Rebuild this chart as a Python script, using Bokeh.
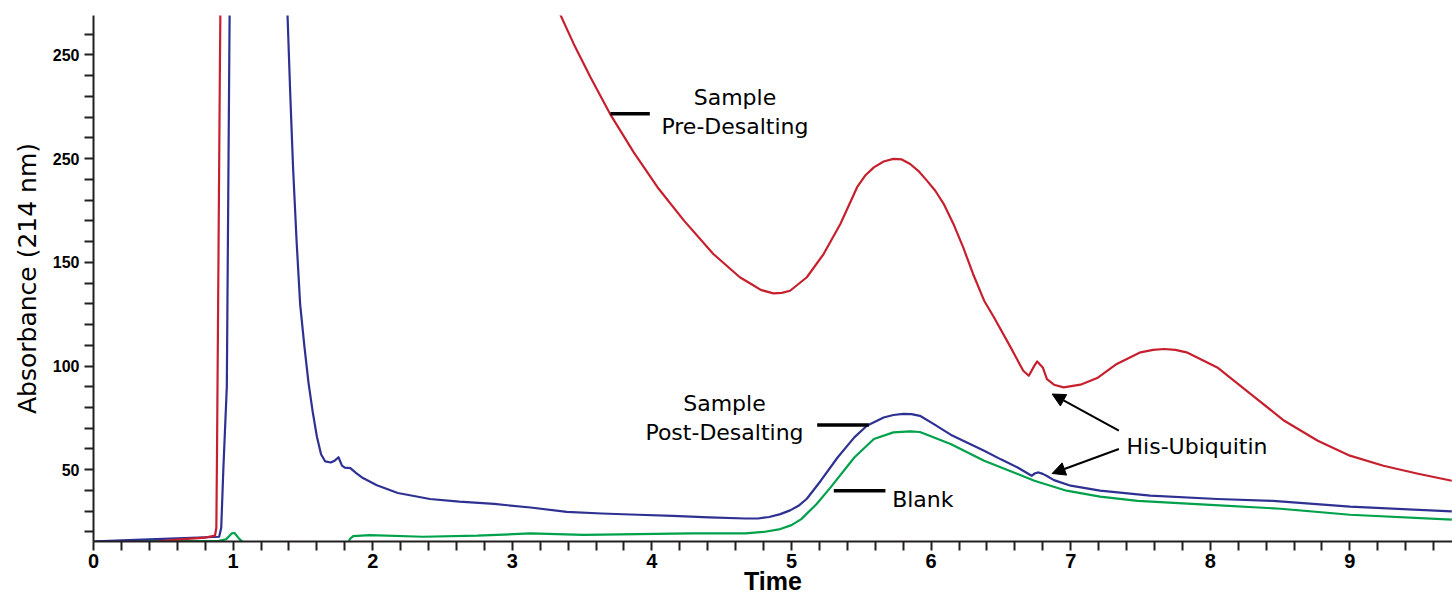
from bokeh.plotting import figure
from bokeh.models import Range1d, FixedTicker, Label, Arrow, NormalHead
from bokeh.embed import file_html
from bokeh.resources import INLINE

# ---------------- data ----------------
pre_time = [0.45, 0.6, 0.8, 0.87, 0.88, 0.885, 0.895, 0.905, 0.91, 0.95, 3.0, 3.3,
            3.34, 3.44, 3.56, 3.70, 3.87, 4.04, 4.23, 4.44, 4.63, 4.72, 4.78, 4.87, 4.93, 4.99,
            5.11, 5.23, 5.35, 5.47, 5.53, 5.59, 5.66, 5.73, 5.79, 5.85, 5.91, 5.97, 6.03, 6.09,
            6.16, 6.23, 6.30, 6.38, 6.45,
            6.57, 6.66, 6.70, 6.74, 6.76, 6.80, 6.83, 6.88, 6.95, 7.07, 7.19, 7.33,
            7.50, 7.59, 7.67, 7.75, 7.83, 8.05, 8.29, 8.53, 8.77, 9.00, 9.24, 9.48, 9.73]
pre_abs = [15.4, 16.3, 17.3, 18.2, 22, 60, 150, 240, 280, 600, 600, 285,
           270, 255.3, 239.2, 221.6, 203, 186.2, 170.1, 154, 142.8, 139.2, 136.7, 135, 135.3, 136.3,
           142.8, 154, 168.5, 186.2, 192, 195.8, 198.6, 199.9, 199.6, 197.4, 194, 189.4, 184.5, 178.2,
           168.5, 157.2, 144.5, 131.5, 123.5,
           109, 97.7, 95.3, 100.2, 102.2, 99.3, 93.7, 91, 89.7, 91, 94.2, 101,
           106.6, 107.8, 108.2, 107.8, 106.6, 99.3, 86.5, 73.6, 64, 56.8, 51.9, 48.2, 44.7]

post_time = [0.02, 0.3, 0.6, 0.9, 0.915, 0.93, 0.955, 0.965, 0.975, 0.985, 1.38,
             1.39, 1.41, 1.43, 1.455, 1.48, 1.51, 1.54, 1.57, 1.60, 1.63, 1.66, 1.70,
             1.73, 1.755, 1.78, 1.80, 1.84, 1.88, 1.93, 2.03, 2.18, 2.41, 2.62, 2.87,
             3.13, 3.39, 3.64, 3.90, 4.15, 4.41, 4.67, 4.76, 4.84, 4.92, 4.99, 5.05, 5.11, 5.21,
             5.33, 5.45, 5.54, 5.66, 5.73, 5.80, 5.86, 5.92, 6.02, 6.14, 6.26, 6.38, 6.50, 6.62,
             6.72, 6.745, 6.77, 6.80, 6.83, 6.88, 7.0, 7.21, 7.57, 8.05, 8.45, 9.0, 9.73]
post_abs = [15.5, 16.2, 16.9, 17.7, 22, 50, 90, 180, 269, 320, 320,
            269, 230, 195, 160, 130, 110, 92, 78, 66, 57.5, 54, 53.5,
            54.5, 56, 52, 51, 50.8, 48.5, 46, 42.5, 38.8, 35.9, 34.6, 33.5,
            31.8, 29.7, 28.9, 28.3, 27.8, 27, 26.5, 26.5, 27.2, 28.6, 30.4, 32.6, 36, 44.7,
            55.9, 65.6, 71.2, 75.2, 76.4, 76.9, 76.8, 76, 72, 66.9, 63, 59.2, 55, 51.1,
            47.1, 48.3, 48.7, 48, 47, 45, 42.3, 39.9, 37.5, 35.9, 35, 32.2, 29.9]

blank_time = [0.0, 0.9, 0.95, 0.99, 1.01, 1.04, 1.07, 1.1, 1.82, 1.835, 1.86, 1.98,
              2.36, 2.75, 3.13, 3.51, 3.90, 4.28, 4.67, 4.80, 4.92, 5.0, 5.07, 5.18, 5.28, 5.45,
              5.59, 5.73, 5.85, 5.92, 6.14, 6.38, 6.62, 6.74, 6.97, 7.21, 7.48, 8.0,
              8.5, 9.0, 9.73]
blank_abs = [15.5, 15.7, 16.5, 19.3, 19.5, 17, 15, 12, 12, 16.5, 18, 18.5,
             17.7, 18.2, 19.3, 18.6, 19, 19.3, 19.3, 20.0, 21.4, 23.3, 26.2, 33.5, 41.5, 55.9,
             64.8, 68, 68.5, 68.2, 62.4, 54.3, 47.9, 44.7, 39.9, 37, 35, 33.1,
             31.2, 28.3, 25.9]

x_major = [0, 1, 2, 3, 4, 5, 6, 7, 8, 9]
y_major = [50, 100, 150, 200, 250]
y_labels = {200: "250"}   # as printed in the original figure

# ---------------- figure ----------------
W, H = 1452, 597
p = figure(width=W, height=H, output_backend="svg", toolbar_location=None,
           x_range=Range1d(0, 9.735), y_range=Range1d(15.4, 269.0),
           min_border_left=93, min_border_right=0, min_border_top=15,
           min_border_bottom=56)
p.outline_line_color = None
p.xgrid.visible = False
p.ygrid.visible = False
p.background_fill_color = "white"
p.border_fill_color = "white"

RED = "#c6202e"
BLUE = "#2e3192"
GREEN = "#00a14b"
AX = "#231f20"

p.line(blank_time, blank_abs, line_color=GREEN, line_width=2.2, line_join="round")
p.line(post_time, post_abs, line_color=BLUE, line_width=2.2, line_join="round")
p.line(pre_time, pre_abs, line_color=RED, line_width=2.2, line_join="round")

minor_x = [round(i * 0.2, 1) for i in range(0, 49) if i % 5 != 0]
minor_y = [v for v in range(20, 270, 10) if v % 50 != 0]

for ax in (p.xaxis[0], p.yaxis[0]):
    ax.axis_line_color = AX
    ax.axis_line_width = 2
    ax.major_tick_line_color = AX
    ax.minor_tick_line_color = AX
    ax.major_tick_line_width = 2
    ax.minor_tick_line_width = 2
    ax.major_tick_in = 0
    ax.minor_tick_in = 0
    ax.major_tick_out = 9
    ax.minor_tick_out = 9
    ax.major_label_text_font = "Liberation Sans"
    ax.major_label_text_font_style = "bold"
    ax.major_label_text_color = "black"

p.xaxis[0].ticker = FixedTicker(ticks=x_major, minor_ticks=minor_x)
p.yaxis[0].ticker = FixedTicker(ticks=y_major, minor_ticks=minor_y)
p.yaxis[0].major_label_overrides = y_labels
p.xaxis[0].major_label_text_font_size = "20px"
p.yaxis[0].major_label_text_font_size = "16px"
p.xaxis[0].major_label_standoff = 3
p.yaxis[0].major_label_standoff = 5

# axis titles
xa = p.xaxis[0]
xa.axis_label = "Time"
xa.axis_label_text_font = "Liberation Sans"
xa.axis_label_text_font_style = "bold"
xa.axis_label_text_font_size = "25px"
xa.axis_label_text_color = "black"
xa.axis_label_standoff = -4

ya = p.yaxis[0]
ya.axis_label = "Absorbance (214 nm)"
ya.axis_label_text_font = "DejaVu Sans"
ya.axis_label_text_font_style = "normal"
ya.axis_label_text_font_size = "25px"
ya.axis_label_text_color = "black"
ya.axis_label_standoff = 8

# annotations
ANN_FONT = "DejaVu Sans"
ANN_SIZE = "22px"

def note(x, y, txt, align="center"):
    p.add_layout(Label(x=x, y=y, text=txt, text_font=ANN_FONT,
                       text_font_size=ANN_SIZE, text_align=align,
                       text_baseline="alphabetic", text_color="black"))

note(4.595, 229.6, "Sample")
note(4.595, 215.4, "Pre-Desalting")
note(4.520, 81.7, "Sample")
note(4.520, 68.0, "Post-Desalting")
note(5.721, 35.5, "Blank", align="left")
note(7.40, 61.2, "His-Ubiquitin", align="left")

p.segment(x0=[3.703, 5.184, 5.303], y0=[221.6, 71.6, 39.9],
          x1=[3.985, 5.554, 5.673], y1=[221.6, 71.6, 39.9],
          line_color="black", line_width=3.5)

for (xs, ys, xe, ye) in [(7.345, 68.8, 6.867, 86.5), (7.345, 60.0, 6.867, 48.2)]:
    p.add_layout(Arrow(x_start=xs, y_start=ys, x_end=xe, y_end=ye,
                       line_color="black", line_width=2,
                       end=NormalHead(size=13, fill_color="black",
                                      line_color="black", line_width=1)))

open("out.html", "w").write(file_html(p, INLINE))
